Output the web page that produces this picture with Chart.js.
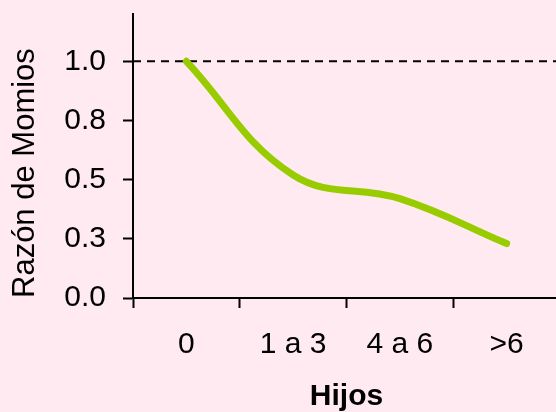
<!DOCTYPE html>
<html>
<head>
<meta charset="utf-8">
<script src="https://cdn.jsdelivr.net/npm/chart.js@4/dist/chart.umd.min.js"></script>
<style>
  html, body { margin: 0; padding: 0; background: #FFEAF1; overflow: hidden; }
  #wrap { width: 556px; height: 412px; position: relative; overflow: hidden; }
  canvas { display: block; }
</style>
</head>
<body>
<div id="wrap"><canvas id="c" width="560" height="412"></canvas></div>
<script>
const categories = ['0', '1 a 3', '4 a 6', '>6'];
const oddsRatio = [1.0, 0.52, 0.42, 0.23];
const referenceValue = 1.0;
const yTickValues = [0, 0.25, 0.5, 0.75, 1.0];
const yTickLabels = ['0.0', '0.3', '0.5', '0.8', '1.0'];
const yMin = 0;
const yMax = 1.2;
const xTitle = 'Hijos';
const yTitle = 'Razón de Momios';

const FONT = '"Liberation Sans", Arial, Helvetica, sans-serif';

const referenceLine = {
  id: 'referenceLine',
  beforeDatasetsDraw(chart) {
    const { ctx, chartArea } = chart;
    const y = chart.scales.y.getPixelForValue(referenceValue);
    ctx.save();
    ctx.strokeStyle = '#000000';
    ctx.lineWidth = 2;
    ctx.setLineDash([8, 6]);
    ctx.beginPath();
    ctx.moveTo(chartArea.left, y);
    ctx.lineTo(chartArea.right, y);
    ctx.stroke();
    ctx.restore();
  }
};

new Chart(document.getElementById('c'), {
  type: 'line',
  data: {
    labels: categories,
    datasets: [{
      data: oddsRatio,
      borderColor: '#99CC00',
      borderWidth: 7,
      tension: 0.4,
      pointRadius: 0,
      pointHoverRadius: 0,
      borderCapStyle: 'round',
      borderJoinStyle: 'round',
      fill: false,
      clip: false
    }]
  },
  options: {
    responsive: false,
    animation: false,
    events: [],
    layout: { padding: { top: 14, right: 0, bottom: 0, left: 0 } },
    plugins: { legend: { display: false }, tooltip: { enabled: false } },
    scales: {
      x: {
        type: 'category',
        offset: true,
        grid: {
          offset: true,
          drawOnChartArea: false,
          drawTicks: true,
          tickLength: 10,
          tickColor: '#000000',
          tickWidth: 2
        },
        border: { display: true, color: '#000000', width: 2 },
        ticks: {
          color: '#000000',
          font: { family: FONT, size: 30 },
          padding: 19,
          maxRotation: 0,
          autoSkip: false
        },
        title: {
          display: true,
          text: xTitle,
          color: '#000000',
          font: { family: FONT, size: 30, weight: 'bold', lineHeight: 1 },
          padding: { top: 0, bottom: 0 }
        },
        afterFit(scale) {
          scale.height = 114;
          scale.paddingLeft = 0;
          scale.paddingRight = 0;
        }
      },
      y: {
        min: yMin,
        max: yMax,
        grid: {
          drawOnChartArea: false,
          drawTicks: true,
          tickLength: 10,
          tickColor: '#000000',
          tickWidth: 2
        },
        border: { display: true, color: '#000000', width: 2 },
        afterBuildTicks(scale) {
          scale.ticks = yTickValues.map(v => ({ value: v }));
        },
        ticks: {
          color: '#000000',
          font: { family: FONT, size: 30 },
          padding: 17,
          autoSkip: false,
          callback: (v, i) => yTickLabels[i]
        },
        title: {
          display: true,
          text: yTitle,
          align: 'start',
          color: '#000000',
          font: { family: FONT, size: 31, lineHeight: 1 },
          padding: { top: 10, bottom: 0 }
        },
        afterFit(scale) {
          scale.width = 133;
          scale.paddingTop = 0;
          scale.paddingBottom = 0;
        }
      }
    }
  },
  plugins: [referenceLine]
});
</script>
</body>
</html>
